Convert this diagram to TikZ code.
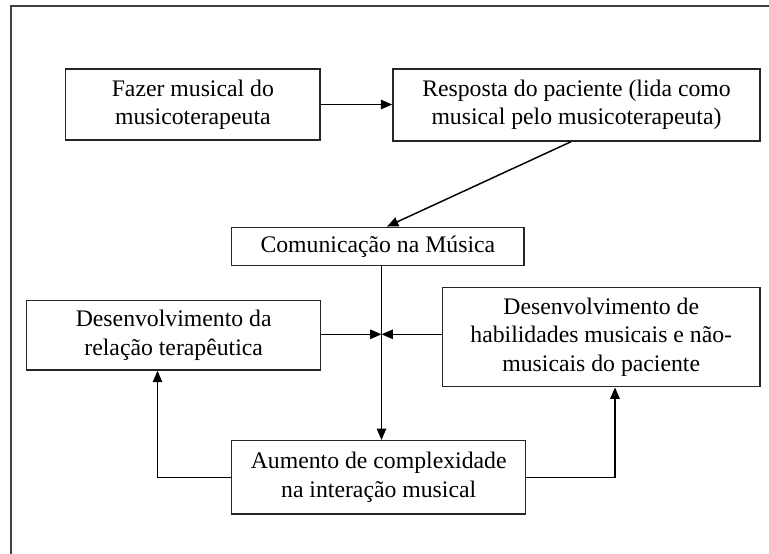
\documentclass[tikz,border=0pt]{standalone}
\usepackage{fontspec}
\setmainfont{Liberation Serif}
\usetikzlibrary{arrows.meta,calc}
\begin{document}
\begin{tikzpicture}[x=0.75pt,y=-0.75pt,
  box/.style={draw=black!85,line width=1.1pt,rectangle,inner sep=0pt,align=center,
    font=\fontsize{17.8}{21.3}\selectfont},
  arr/.style={draw=black,line width=1.1pt,-{Triangle[length=8.5pt,width=7pt]}},
  ln/.style={draw=black,line width=1.1pt}]
\useasboundingbox (0,0) rectangle (769,554);
\draw[draw=black!75,line width=1.2pt] (11,554) -- (11,6) -- (769,6);
\node[box,minimum width=254.3*0.75pt,minimum height=71*0.75pt] (b1) at (192.85,104.5) {Fazer musical do\\musicoterapeuta};
\node[box,minimum width=367*0.75pt,minimum height=72*0.75pt] (b2) at (576.5,105) {Resposta do paciente (lida como\\musical pelo musicoterapeuta)};
\node[box,minimum width=292.3*0.75pt,minimum height=38.4*0.75pt] (com) at (377.85,246.5) {Comunicação na Música};
\node[box,minimum width=294*0.75pt,minimum height=69.3*0.75pt] (lt) at (173.7,335.35) {Desenvolvimento da\\relação terapêutica};
\node[box,minimum width=317.5*0.75pt,minimum height=99.2*0.75pt] (rt) at (601.25,337.1) {Desenvolvimento de\\habilidades musicais e não-\\musicais do paciente};
\node[box,minimum width=294*0.75pt,minimum height=73.3*0.75pt] (aum) at (378.7,477.35) {Aumento de complexidade\\na interação musical};
\coordinate (j) at (381.5,334.3);
\coordinate (sx) at (571,0);
\coordinate (ex) at (387,0);
\coordinate (lx) at (157.5,0);
\coordinate (rx) at (615,0);
\draw[arr] (b1.east) -- (b1.east -| b2.west);
\draw[arr] (b2.south -| sx) -- (com.north -| ex);
\draw[arr] (com.south -| j) -- (aum.north -| j);
\draw[arr] (lt.east |- j) -- (j);
\draw[arr] (rt.west |- j) -- (j);
\draw[arr] (aum.west) -| (lt.south -| lx);
\draw[arr] (aum.east) -| (rt.south -| rx);
\end{tikzpicture}
\end{document}
